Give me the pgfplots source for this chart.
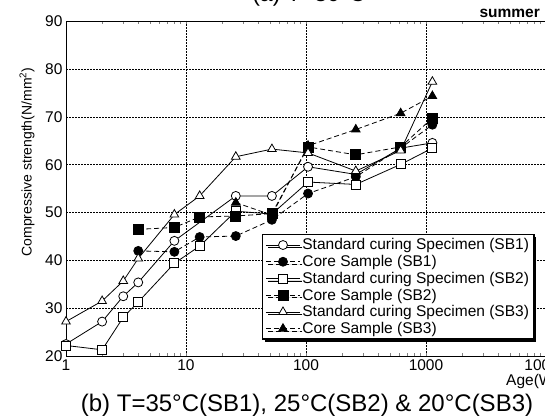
\documentclass[border=0pt]{standalone}
\usepackage{pgfplots}
\pgfplotsset{compat=1.18}
\usepackage{fontspec}
\setmainfont{Liberation Sans}
\usetikzlibrary{shadows}

\pgfplotstableread{
x y
1 22.5
2 27.2
3 32.5
4 35.4
8 44.1
26 53.5
52 53.5
104 59.6
260 58.0
615 63.5
1130 64.6
}\sbonestd
\pgfplotstableread{
x y
4 42.0
8 41.8
13 44.9
26 45.1
52 48.5
104 54.0
260 57.5
615 63.5
1130 68.4
}\sbonecore
\pgfplotstableread{
x y
1 22.2
2 21.3
3 28.1
4 31.3
8 39.4
13 43.0
26 50.3
52 49.7
104 56.4
260 55.9
615 60.1
1130 63.5
}\sbtwostd
\pgfplotstableread{
x y
4 46.5
8 46.9
13 49.1
26 49.3
52 49.8
104 63.75
260 62.1
615 63.75
1130 69.8
}\sbtwocore
\pgfplotstableread{
x y
1 27.2
2 31.5
3 35.7
4 40.4
8 49.6
13 53.5
26 61.7
52 63.3
104 62.5
260 58.7
615 63.0
1130 77.4
}\sbthreestd
\pgfplotstableread{
x y
26 52.1
52 49.5
104 64.0
260 67.4
615 70.8
1130 74.4
}\sbthreecore

\begin{document}
\begin{tikzpicture}
\begin{axis}[
  at={(0pt,0pt)}, anchor=south west,
  scale only axis, width=480pt, height=334.5pt,
  xmode=log, xmin=1, xmax=10000, ymin=20, ymax=90,
  xtick={1,10,100,1000,10000}, xticklabels={1,10,100,1000,10000},
  minor xtick={}, ytick={20,30,...,90},
  major tick length=0pt,
  xmajorgrids, ymajorgrids,
  grid style={black, line width=0.8pt, dash pattern=on 2pt off 1pt},
  axis line style={line width=1pt},
  tick label style={font=\fontsize{15.5}{18}\selectfont},
  /pgf/number format/assume math mode=true,
  legend style={at={(0.408,0.365)}, anchor=north west, draw=black, line width=1.5pt,
    fill=white, font=\fontsize{15.5}{17.5}\selectfont, inner xsep=3pt, inner ysep=2pt,
    row sep=0pt, cells={anchor=west},
    drop shadow={shadow xshift=2.5pt, shadow yshift=-2.5pt, fill=black, opacity=1}},
  legend image code/.code={\draw[mark repeat=2,mark phase=2,#1] plot coordinates {(0pt,0pt)(17pt,0pt)(34pt,0pt)};},
  every axis plot/.append style={black, line width=0.8pt},
]
\addplot[solid, mark=*, mark size=4.5pt, mark options={solid, fill=white}] table {\sbonestd};
\addlegendentry{Standard curing Specimen (SB1)}
\addplot[dash pattern=on 5pt off 3pt, mark=*, mark size=4.5pt, mark options={solid, fill=black}] table {\sbonecore};
\addlegendentry{Core Sample (SB1)}
\addplot[solid, mark=square*, mark size=4.5pt, mark options={solid, fill=white}] table {\sbtwostd};
\addlegendentry{Standard curing Specimen (SB2)}
\addplot[dash pattern=on 5pt off 3pt, mark=square*, mark size=5pt, mark options={solid, fill=black}] table {\sbtwocore};
\addlegendentry{Core Sample (SB2)}
\addplot[solid, mark=triangle*, mark size=5pt, mark options={solid, fill=white}] table {\sbthreestd};
\addlegendentry{Standard curing Specimen (SB3)}
\addplot[dash pattern=on 5pt off 3pt, mark=triangle*, mark size=5pt, mark options={solid, fill=black}] table {\sbthreecore};
\addlegendentry{Core Sample (SB3)}
\end{axis}
\node[anchor=base, inner sep=0pt, font=\fontsize{24}{27}\selectfont] at (241pt,-55pt) {(b) T=35°C(SB1), 25°C(SB2) \& 20°C(SB3)};
\node[anchor=base, inner sep=0pt, font=\fontsize{23}{26}\selectfont] at (243pt,354pt) {(a) T=30°C};
\node[anchor=base east, inner sep=0pt, font=\bfseries\fontsize{15.5}{18}\selectfont] at (474pt,338pt) {summer};
\node[anchor=base west, inner sep=0pt, font=\fontsize{15.5}{18}\selectfont] at (440pt,-29pt) {Age(Weeks)};
\node[rotate=90, inner sep=0pt, font=\fontsize{14}{16}\selectfont] at (-39pt,194pt) {Compressive strength(N/mm\textsuperscript{2})};
\pgfresetboundingbox
\useasboundingbox (-66pt,-61pt) rectangle (479pt,356pt);
\end{tikzpicture}
\end{document}
